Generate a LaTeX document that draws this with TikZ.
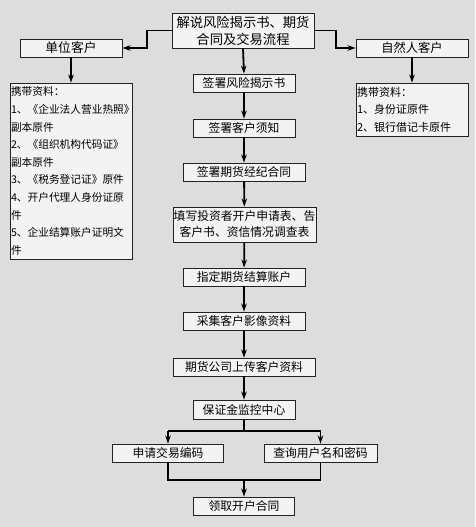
\documentclass[tikz,border=0pt]{standalone}
\usepackage{fontspec}
\setmainfont{Noto Sans CJK SC}
\usetikzlibrary{arrows.meta}
\definecolor{bggray}{HTML}{DDDDDD}
\definecolor{boxfill}{HTML}{F3F3F3}
\definecolor{edge}{HTML}{222222}
\begin{document}
\begin{tikzpicture}[x=1pt,y=-1pt,
  box/.style={draw=edge,fill=boxfill,line width=0.9pt,inner sep=0pt,align=center,
    font=\fontsize{11.8}{16}\selectfont},
  listbox/.style={draw=edge,fill=boxfill,line width=0.9pt,inner sep=1pt,align=left},
  conn/.style={line width=1.8pt,black},
  arr/.style={conn,-{Stealth[length=8pt,width=5.5pt]}}]
\fill[bggray] (0,0) rectangle (475,527);
\useasboundingbox (0,0) rectangle (475,527);
% nodes
\node[box,minimum width=142pt,minimum height=35pt,font=\fontsize{13.3}{17}\selectfont] (top) at (243,30.5) {解说风险揭示书、期货\\合同及交易流程};
\node[box,minimum width=102pt,minimum height=18pt,font=\fontsize{12.8}{16}\selectfont] (unit) at (71,48) {单位客户};
\node[box,minimum width=112pt,minimum height=18pt,font=\fontsize{12.3}{16}\selectfont] (nat) at (412,48) {自然人客户};
\node[listbox,text width=120pt,minimum height=176pt,font=\fontsize{10.7}{17.6}\selectfont] (lbox) at (71,171)
  {携带资料：\\1、《企业法人营业热照》\\副本原件\\2、《组织机构代码证》\\副本原件\\3、《税务登记证》原件\\4、开户代理人身份证原\\件\\5、企业结算账户证明文\\件};
\node[listbox,text width=110pt,minimum height=53pt,font=\fontsize{11}{17.4}\selectfont] (rbox) at (412,109.5)
  {携带资料：\\1、身份证原件\\2、银行借记卡原件};
\node[box,minimum width=102pt,minimum height=18pt] (s1) at (244,83) {签署风险揭示书};
\node[box,minimum width=102pt,minimum height=18pt] (s2) at (244,128) {签署客户须知};
\node[box,minimum width=122pt,minimum height=18pt] (s3) at (244,172) {签署期货经纪合同};
\node[box,minimum width=143pt,minimum height=35pt] (s4) at (244.5,224.5) {填写投资者开户申请表、告\\客户书、资信情况调查表};
\node[box,minimum width=122pt,minimum height=18pt] (s5) at (244,277) {指定期货结算账户};
\node[box,minimum width=122pt,minimum height=18pt] (s6) at (244,321) {采集客户影像资料};
\node[box,minimum width=142pt,minimum height=18pt] (s7) at (244,367) {期货公司上传客户资料};
\node[box,minimum width=102pt,minimum height=19pt] (s8) at (244,409.5) {保证金监控中心};
\node[box,minimum width=111pt,minimum height=18pt] (a) at (168,453) {申请交易编码};
\node[box,minimum width=113pt,minimum height=18pt] (b) at (320.5,453) {查询用户名和密码};
\node[box,minimum width=101pt,minimum height=18pt] (end) at (244,506) {领取开户合同};
% helper coordinates
\coordinate (lk) at (147,48);
\coordinate (rk) at (336,48);
\coordinate (sp) at (244,431);
\coordinate (spl) at (168,431);
\coordinate (spr) at (320.5,431);
\coordinate (mg) at (244,480);
\coordinate (mgl) at (168,480);
\coordinate (mgr) at (320.5,480);
% connectors
\draw[arr] (top.west) -| (lk) -- (unit.east);
\draw[arr] (top.east) -| (rk) -- (nat.west);
\draw[arr] (unit.south) -- (lbox.north);
\draw[arr] (nat.south) -- (rbox.north);
\draw[arr] (top.south) -- (s1.north);
\draw[arr] (s1) -- (s2);
\draw[arr] (s2) -- (s3);
\draw[arr] (s3) -- (s4);
\draw[arr] (s4) -- (s5);
\draw[arr] (s5) -- (s6);
\draw[arr] (s6) -- (s7);
\draw[arr] (s7) -- (s8);
\draw[conn] (s8.south) -- (sp);
\draw[conn] (spl) -- (spr);
\draw[arr] (spl) -- (a.north);
\draw[arr] (spr) -- (b.north);
\draw[conn] (a.south) -- (mgl) -- (mgr) -- (b.south);
\draw[arr] (mg) -- (end.north);
\end{tikzpicture}
\end{document}
